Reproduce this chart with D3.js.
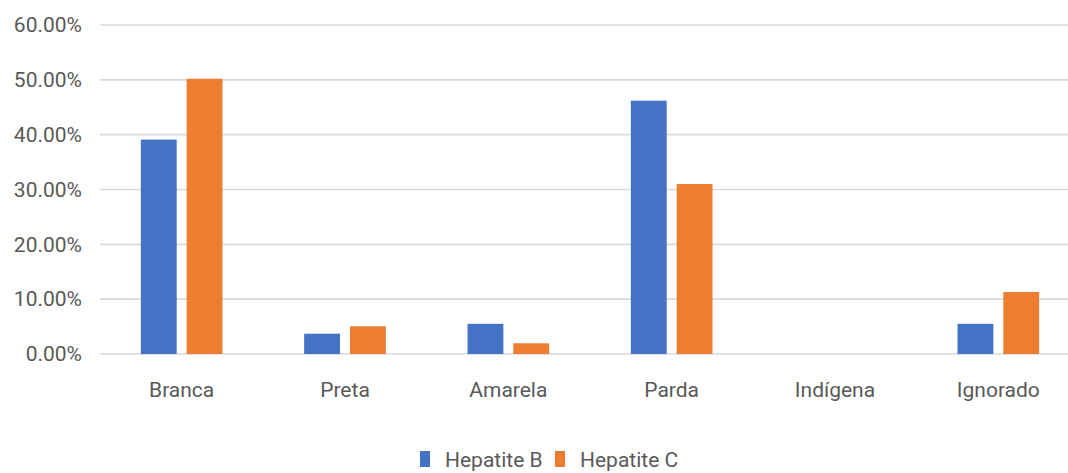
<!DOCTYPE html>
<html>
<head>
<meta charset="utf-8">
<script src="https://cdn.jsdelivr.net/npm/d3@7"></script>
<style>
  html, body { margin: 0; padding: 0; background: #fff; }
  svg text { font-family: Roboto, "Open Sans", sans-serif; fill: #595959; }
</style>
</head>
<body>
<svg id="chart" width="1068" height="473"></svg>
<script>
const categories = ["Branca", "Preta", "Amarela", "Parda", "Indígena", "Ignorado"];
const seriesNames = ["Hepatite B", "Hepatite C"];
const hepatiteB = [39.1, 3.7, 5.5, 46.2, 0, 5.5];
const hepatiteC = [50.2, 5.05, 1.95, 31.0, 0, 11.3];
const yTicks = [0, 10, 20, 30, 40, 50, 60];
const colors = ["#4472c4", "#ed7d31"];

const seriesValues = [hepatiteB, hepatiteC];
const rows = categories.map((c, i) => ({ cat: c, vals: seriesValues.map((s, j) => ({ key: seriesNames[j], v: s[i], idx: j })) }));

const FONT = 'Roboto, "Open Sans", sans-serif';
const svg = d3.select("#chart");
const mLeft = 100, mRight = 1080, mTop = 25, mBottom = 354;

const x0 = d3.scaleBand().domain(categories).range([mLeft, mRight]).paddingInner(0.5).paddingOuter(0.25);
const x1 = d3.scaleBand().domain(seriesNames).range([0, x0.bandwidth()]).paddingInner(0.217).paddingOuter(0);
const y = d3.scaleLinear().domain([0, 60]).range([mBottom, mTop]);

// gridlines
const grid = svg.append("g");
grid.selectAll("line").data(yTicks).join("line")
  .attr("x1", mLeft).attr("x2", 1068)
  .attr("y1", d => y(d)).attr("y2", d => y(d))
  .attr("stroke", "#d9d9d9").attr("stroke-width", 1.6);

// y-axis labels
const yAxis = d3.axisLeft(y).tickValues(yTicks).tickFormat(d => d.toFixed(2) + "%").tickSize(0).tickPadding(0);
const gy = svg.append("g").attr("transform", `translate(82,0)`).call(yAxis);
gy.select(".domain").remove();
gy.selectAll("text").attr("font-size", 21).attr("fill", "#595959").style("font-family", FONT);

// bars
const groups = svg.append("g").selectAll("g").data(rows).join("g")
  .attr("transform", d => `translate(${x0(d.cat)},0)`);
groups.selectAll("rect").data(d => d.vals).join("rect")
  .attr("x", d => x1(d.key))
  .attr("width", x1.bandwidth())
  .attr("y", d => y(d.v))
  .attr("height", d => y(0) - y(d.v))
  .attr("fill", d => colors[d.idx]);

// x-axis labels
const xAxis = d3.axisBottom(x0).tickSize(0).tickPadding(0);
const gx = svg.append("g").attr("transform", `translate(0,390)`).call(xAxis);
gx.select(".domain").remove();
gx.selectAll("text").attr("font-size", 21).attr("fill", "#595959").attr("dy", "0.35em").style("font-family", FONT);

// legend
const legend = svg.append("g");
const legendItems = [{ name: seriesNames[0], x: 420 }, { name: seriesNames[1], x: 555 }];
legendItems.forEach((it, i) => {
  legend.append("rect").attr("x", it.x).attr("y", 451).attr("width", 10).attr("height", 16).attr("fill", colors[i]);
  legend.append("text").attr("x", it.x + 25).attr("y", 467).attr("font-size", 21).text(it.name);
});
</script>
</body>
</html>
